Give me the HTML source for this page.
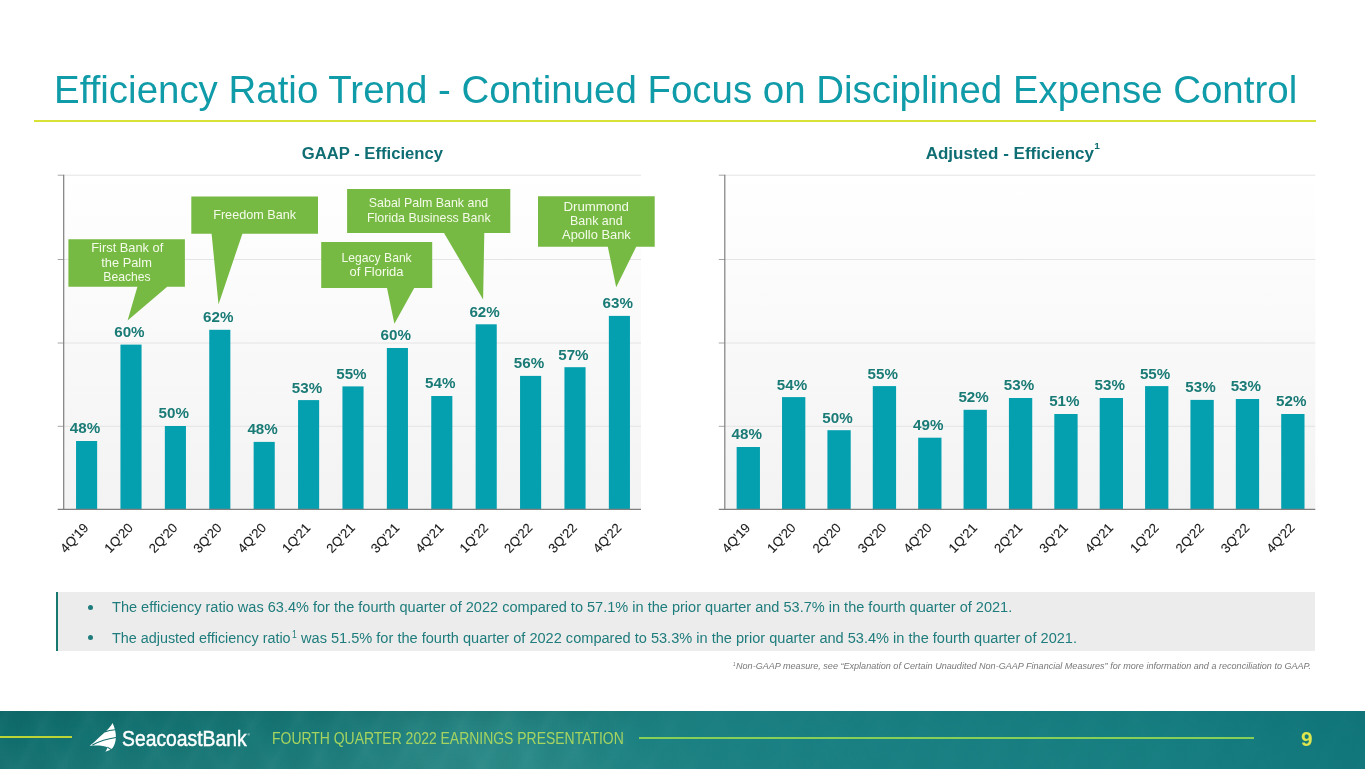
<!DOCTYPE html>
<html lang="en">
<head>
<meta charset="utf-8">
<title>Efficiency Ratio Trend - Continued Focus on Disciplined Expense Control</title>
<style>
html,body{margin:0;padding:0;background:#fff}
body{width:1365px;height:769px;position:relative;overflow:hidden;font-family:"Liberation Sans", sans-serif}
.t{position:absolute;display:block;white-space:nowrap;transform-origin:0 0;margin:0;padding:0;font-weight:normal;font-style:normal}
ul,li{margin:0;padding:0;list-style:none}
.rule{position:absolute;left:34px;top:120.2px;width:1282px;height:1.5px;background:#d8e136}
.chart{position:absolute;display:block;font-family:"Liberation Sans", sans-serif}
.box{position:absolute;left:56.4px;top:591.9px;width:1258.8px;height:59.6px;background:#ececec;border-left:2px solid #17786f;box-sizing:border-box}
.dot{position:absolute;left:88.1px;width:5px;height:5px;border-radius:50%;background:#1f7c7c}
footer{position:absolute;left:0;top:711.3px;width:1365px;height:57.7px;overflow:hidden;
 background:linear-gradient(90deg,#106f6e 0,#147574 120px,#197b79 330px,#1f8481 500px,#1b8083 760px,#177e81 1150px,#11767a 1365px)}
footer .tex{position:absolute;left:0;top:0;width:100%;height:100%;background:
 repeating-linear-gradient(118deg,rgba(255,255,255,0) 0,rgba(255,255,255,.018) 7px,rgba(255,255,255,0) 15px,rgba(0,40,40,.025) 26px,rgba(255,255,255,0) 37px),
 repeating-linear-gradient(64deg,rgba(255,255,255,0) 0,rgba(255,255,255,.014) 9px,rgba(255,255,255,0) 21px,rgba(0,40,40,.02) 33px,rgba(255,255,255,0) 47px),
 radial-gradient(ellipse 180px 60px at 470px 30px,rgba(255,255,255,.05),rgba(255,255,255,0)),
 linear-gradient(180deg,rgba(0,50,50,.10) 0,rgba(0,0,0,0) 45%,rgba(255,255,255,.03) 100%);
 -webkit-mask-image:linear-gradient(90deg,#000 0,#000 560px,rgba(0,0,0,.25) 700px,rgba(0,0,0,.25) 100%);mask-image:linear-gradient(90deg,#000 0,#000 560px,rgba(0,0,0,.25) 700px,rgba(0,0,0,.25) 100%)}
.fl{position:absolute;height:1.3px}
.logo{-webkit-text-stroke:0.45px #fff}
</style>
</head>
<body>
<main>
<h1 class="t title" style="left:54.00px;top:65.99px;font-size:39.2px;line-height:47.04px;color:#109ba9;transform:scaleX(0.9812)">Efficiency Ratio Trend - Continued Focus on Disciplined Expense Control</h1>
<div class="rule"></div>
<section>
<svg class="chart" style="left:0px;top:130px" width="682" height="450" viewBox="0 130 682 450" >
<defs><linearGradient id="pg0" x1="0" y1="0" x2="0" y2="1"><stop offset="0" stop-color="#ffffff"/><stop offset="1" stop-color="#f3f3f3"/></linearGradient></defs>
<rect x="63.7" y="175.2" width="577.3" height="334.2" fill="url(#pg0)"/>
<path d="M63.7 175.2H641.0M63.7 259.5H641.0M63.7 343.0H641.0M63.7 426.3H641.0" stroke="#e4e4e4" stroke-width="1" fill="none"/>
<g fill="#04a0b0">
<rect x="76.05" y="441.0" width="21.10" height="68.7"/>
<rect x="120.45" y="344.6" width="21.10" height="165.1"/>
<rect x="164.85" y="426.0" width="21.10" height="83.7"/>
<rect x="209.25" y="329.8" width="21.10" height="179.9"/>
<rect x="253.65" y="441.9" width="21.10" height="67.8"/>
<rect x="298.05" y="400.1" width="21.10" height="109.6"/>
<rect x="342.45" y="386.4" width="21.10" height="123.3"/>
<rect x="386.85" y="348.0" width="21.10" height="161.7"/>
<rect x="431.25" y="396.0" width="21.10" height="113.7"/>
<rect x="475.65" y="324.3" width="21.10" height="185.4"/>
<rect x="520.05" y="375.9" width="21.10" height="133.8"/>
<rect x="564.45" y="367.2" width="21.10" height="142.5"/>
<rect x="608.85" y="315.9" width="21.10" height="193.8"/>
</g>
<path d="M57.7 175.2H63.7M57.7 259.5H63.7M57.7 343.0H63.7M57.7 426.3H63.7" stroke="#a6a6a6" stroke-width="1" fill="none"/>
<path d="M63.7 174.7V509.4M57.7 509.4H641.0" stroke="#7f7f7f" stroke-width="1.2" fill="none"/>
<path d="M68.4 239.3H184.9V286.8H167.2L127.6 320.4L137.4 286.8H68.4Z" fill="#77ba43"/>
<text x="91.30" y="252.30" font-size="13.1" fill="#f4fbea" textLength="71.90" lengthAdjust="spacingAndGlyphs">First Bank of</text>
<text x="101.30" y="266.50" font-size="13.1" fill="#f4fbea" textLength="50.60" lengthAdjust="spacingAndGlyphs">the Palm</text>
<text x="103.30" y="280.60" font-size="13.1" fill="#f4fbea" textLength="47.30" lengthAdjust="spacingAndGlyphs">Beaches</text>
<path d="M191.3 196.4H318.0V233.7H242.4L218.5 304.4L211.6 233.7H191.3Z" fill="#77ba43"/>
<text x="213.20" y="218.70" font-size="13.1" fill="#f4fbea" textLength="82.90" lengthAdjust="spacingAndGlyphs">Freedom Bank</text>
<path d="M321.2 242.1H432.2V288.1H414.2L394.4 323.8L387.0 288.1H321.2Z" fill="#77ba43"/>
<text x="341.60" y="261.60" font-size="13.1" fill="#f4fbea" textLength="70.10" lengthAdjust="spacingAndGlyphs">Legacy Bank</text>
<text x="349.50" y="275.50" font-size="13.1" fill="#f4fbea" textLength="54.00" lengthAdjust="spacingAndGlyphs">of Florida</text>
<path d="M347.1 189.1H510.3V232.9H484.3L483.1 299.6L444.0 232.9H347.1Z" fill="#77ba43"/>
<text x="368.80" y="207.40" font-size="13.1" fill="#f4fbea" textLength="119.40" lengthAdjust="spacingAndGlyphs">Sabal Palm Bank and</text>
<text x="367.00" y="221.60" font-size="13.1" fill="#f4fbea" textLength="123.60" lengthAdjust="spacingAndGlyphs">Florida Business Bank</text>
<path d="M538.0 196.3H654.7V246.7H636.2L616.2 287.2L607.8 246.7H538.0Z" fill="#77ba43"/>
<text x="563.40" y="210.90" font-size="13.1" fill="#f4fbea" textLength="65.60" lengthAdjust="spacingAndGlyphs">Drummond</text>
<text x="570.00" y="225.00" font-size="13.1" fill="#f4fbea" textLength="52.60" lengthAdjust="spacingAndGlyphs">Bank and</text>
<text x="562.10" y="239.40" font-size="13.1" fill="#f4fbea" textLength="68.70" lengthAdjust="spacingAndGlyphs">Apollo Bank</text>
<g font-weight="bold" font-size="15.1" fill="#1a7b76" text-anchor="middle">
<text x="85.00" y="433.4" textLength="30.4" lengthAdjust="spacingAndGlyphs">48%</text>
<text x="129.40" y="337.0" textLength="30.4" lengthAdjust="spacingAndGlyphs">60%</text>
<text x="173.80" y="418.4" textLength="30.4" lengthAdjust="spacingAndGlyphs">50%</text>
<text x="218.20" y="322.2" textLength="30.4" lengthAdjust="spacingAndGlyphs">62%</text>
<text x="262.60" y="434.3" textLength="30.4" lengthAdjust="spacingAndGlyphs">48%</text>
<text x="307.00" y="392.5" textLength="30.4" lengthAdjust="spacingAndGlyphs">53%</text>
<text x="351.40" y="378.8" textLength="30.4" lengthAdjust="spacingAndGlyphs">55%</text>
<text x="395.80" y="340.4" textLength="30.4" lengthAdjust="spacingAndGlyphs">60%</text>
<text x="440.20" y="388.4" textLength="30.4" lengthAdjust="spacingAndGlyphs">54%</text>
<text x="484.60" y="316.7" textLength="30.4" lengthAdjust="spacingAndGlyphs">62%</text>
<text x="529.00" y="368.3" textLength="30.4" lengthAdjust="spacingAndGlyphs">56%</text>
<text x="573.40" y="359.6" textLength="30.4" lengthAdjust="spacingAndGlyphs">57%</text>
<text x="617.80" y="308.3" textLength="30.4" lengthAdjust="spacingAndGlyphs">63%</text>
</g>
<g font-size="13.1" fill="#1c1c1c" stroke="#1c1c1c" stroke-width="0.1" text-anchor="end">
<text transform="translate(89.30 528.4) rotate(-47)" textLength="34.6" lengthAdjust="spacingAndGlyphs">4Q&#x27;19</text>
<text transform="translate(133.70 528.4) rotate(-47)" textLength="34.6" lengthAdjust="spacingAndGlyphs">1Q&#x27;20</text>
<text transform="translate(178.10 528.4) rotate(-47)" textLength="34.6" lengthAdjust="spacingAndGlyphs">2Q&#x27;20</text>
<text transform="translate(222.50 528.4) rotate(-47)" textLength="34.6" lengthAdjust="spacingAndGlyphs">3Q&#x27;20</text>
<text transform="translate(266.90 528.4) rotate(-47)" textLength="34.6" lengthAdjust="spacingAndGlyphs">4Q&#x27;20</text>
<text transform="translate(311.30 528.4) rotate(-47)" textLength="34.6" lengthAdjust="spacingAndGlyphs">1Q&#x27;21</text>
<text transform="translate(355.70 528.4) rotate(-47)" textLength="34.6" lengthAdjust="spacingAndGlyphs">2Q&#x27;21</text>
<text transform="translate(400.10 528.4) rotate(-47)" textLength="34.6" lengthAdjust="spacingAndGlyphs">3Q&#x27;21</text>
<text transform="translate(444.50 528.4) rotate(-47)" textLength="34.6" lengthAdjust="spacingAndGlyphs">4Q&#x27;21</text>
<text transform="translate(488.90 528.4) rotate(-47)" textLength="34.6" lengthAdjust="spacingAndGlyphs">1Q&#x27;22</text>
<text transform="translate(533.30 528.4) rotate(-47)" textLength="34.6" lengthAdjust="spacingAndGlyphs">2Q&#x27;22</text>
<text transform="translate(577.70 528.4) rotate(-47)" textLength="34.6" lengthAdjust="spacingAndGlyphs">3Q&#x27;22</text>
<text transform="translate(622.10 528.4) rotate(-47)" textLength="34.6" lengthAdjust="spacingAndGlyphs">4Q&#x27;22</text>
</g>
<text x="301.80" y="159.40" font-size="17.2" fill="#0f6e73" font-weight="bold" textLength="141.20" lengthAdjust="spacingAndGlyphs">GAAP - Efficiency</text>
</svg>
</section>
<section>
<svg class="chart" style="left:682px;top:130px" width="683" height="450" viewBox="682 130 683 450" >
<defs><linearGradient id="pg1" x1="0" y1="0" x2="0" y2="1"><stop offset="0" stop-color="#ffffff"/><stop offset="1" stop-color="#f3f3f3"/></linearGradient></defs>
<rect x="724.8" y="175.2" width="590.5" height="334.2" fill="url(#pg1)"/>
<path d="M724.8 175.2H1315.3M724.8 259.5H1315.3M724.8 343.0H1315.3M724.8 426.3H1315.3" stroke="#e4e4e4" stroke-width="1" fill="none"/>
<g fill="#04a0b0">
<rect x="736.65" y="447.0" width="23.30" height="62.7"/>
<rect x="782.03" y="397.1" width="23.30" height="112.6"/>
<rect x="827.41" y="430.2" width="23.30" height="79.5"/>
<rect x="872.79" y="386.1" width="23.30" height="123.6"/>
<rect x="918.17" y="437.7" width="23.30" height="72.0"/>
<rect x="963.55" y="409.8" width="23.30" height="99.9"/>
<rect x="1008.93" y="398.0" width="23.30" height="111.7"/>
<rect x="1054.31" y="414.0" width="23.30" height="95.7"/>
<rect x="1099.69" y="398.0" width="23.30" height="111.7"/>
<rect x="1145.07" y="386.1" width="23.30" height="123.6"/>
<rect x="1190.45" y="399.9" width="23.30" height="109.8"/>
<rect x="1235.83" y="399.0" width="23.30" height="110.7"/>
<rect x="1281.21" y="414.0" width="23.30" height="95.7"/>
</g>
<path d="M718.8 175.2H724.8M718.8 259.5H724.8M718.8 343.0H724.8M718.8 426.3H724.8" stroke="#a6a6a6" stroke-width="1" fill="none"/>
<path d="M724.8 174.7V509.4M718.8 509.4H1315.3" stroke="#7f7f7f" stroke-width="1.2" fill="none"/>
<g font-weight="bold" font-size="15.1" fill="#1a7b76" text-anchor="middle">
<text x="746.70" y="439.4" textLength="30.4" lengthAdjust="spacingAndGlyphs">48%</text>
<text x="792.08" y="389.5" textLength="30.4" lengthAdjust="spacingAndGlyphs">54%</text>
<text x="837.46" y="422.6" textLength="30.4" lengthAdjust="spacingAndGlyphs">50%</text>
<text x="882.84" y="378.5" textLength="30.4" lengthAdjust="spacingAndGlyphs">55%</text>
<text x="928.22" y="430.1" textLength="30.4" lengthAdjust="spacingAndGlyphs">49%</text>
<text x="973.60" y="402.2" textLength="30.4" lengthAdjust="spacingAndGlyphs">52%</text>
<text x="1018.98" y="390.4" textLength="30.4" lengthAdjust="spacingAndGlyphs">53%</text>
<text x="1064.36" y="406.4" textLength="30.4" lengthAdjust="spacingAndGlyphs">51%</text>
<text x="1109.74" y="390.4" textLength="30.4" lengthAdjust="spacingAndGlyphs">53%</text>
<text x="1155.12" y="378.5" textLength="30.4" lengthAdjust="spacingAndGlyphs">55%</text>
<text x="1200.50" y="392.3" textLength="30.4" lengthAdjust="spacingAndGlyphs">53%</text>
<text x="1245.88" y="391.4" textLength="30.4" lengthAdjust="spacingAndGlyphs">53%</text>
<text x="1291.26" y="406.4" textLength="30.4" lengthAdjust="spacingAndGlyphs">52%</text>
</g>
<g font-size="13.1" fill="#1c1c1c" stroke="#1c1c1c" stroke-width="0.1" text-anchor="end">
<text transform="translate(751.00 528.4) rotate(-47)" textLength="34.6" lengthAdjust="spacingAndGlyphs">4Q&#x27;19</text>
<text transform="translate(796.38 528.4) rotate(-47)" textLength="34.6" lengthAdjust="spacingAndGlyphs">1Q&#x27;20</text>
<text transform="translate(841.76 528.4) rotate(-47)" textLength="34.6" lengthAdjust="spacingAndGlyphs">2Q&#x27;20</text>
<text transform="translate(887.14 528.4) rotate(-47)" textLength="34.6" lengthAdjust="spacingAndGlyphs">3Q&#x27;20</text>
<text transform="translate(932.52 528.4) rotate(-47)" textLength="34.6" lengthAdjust="spacingAndGlyphs">4Q&#x27;20</text>
<text transform="translate(977.90 528.4) rotate(-47)" textLength="34.6" lengthAdjust="spacingAndGlyphs">1Q&#x27;21</text>
<text transform="translate(1023.28 528.4) rotate(-47)" textLength="34.6" lengthAdjust="spacingAndGlyphs">2Q&#x27;21</text>
<text transform="translate(1068.66 528.4) rotate(-47)" textLength="34.6" lengthAdjust="spacingAndGlyphs">3Q&#x27;21</text>
<text transform="translate(1114.04 528.4) rotate(-47)" textLength="34.6" lengthAdjust="spacingAndGlyphs">4Q&#x27;21</text>
<text transform="translate(1159.42 528.4) rotate(-47)" textLength="34.6" lengthAdjust="spacingAndGlyphs">1Q&#x27;22</text>
<text transform="translate(1204.80 528.4) rotate(-47)" textLength="34.6" lengthAdjust="spacingAndGlyphs">2Q&#x27;22</text>
<text transform="translate(1250.18 528.4) rotate(-47)" textLength="34.6" lengthAdjust="spacingAndGlyphs">3Q&#x27;22</text>
<text transform="translate(1295.56 528.4) rotate(-47)" textLength="34.6" lengthAdjust="spacingAndGlyphs">4Q&#x27;22</text>
</g>
<text x="925.70" y="159.40" font-size="17.2" fill="#0f6e73" font-weight="bold" textLength="168.30" lengthAdjust="spacingAndGlyphs">Adjusted - Efficiency</text>
<text x="1094.20" y="148.90" font-size="9.8" fill="#0f6e73" font-weight="bold" textLength="5.60" lengthAdjust="spacingAndGlyphs">1</text>
</svg>
</section>
<div class="box"></div>
<ul>
<li><i class="dot" style="top:604.8px"></i><span class="t" style="left:112.20px;top:599.35px;font-size:14.0px;line-height:16.8px;color:#1f7c7c;transform:scaleX(1.0387)">The efficiency ratio was 63.4% for the fourth quarter of 2022 compared to 57.1% in the prior quarter and 53.7% in the fourth quarter of 2021.</span></li>
<li><i class="dot" style="top:635.1px"></i><span class="t" style="left:112.20px;top:629.65px;font-size:14.0px;line-height:16.8px;color:#1f7c7c;transform:scaleX(1.0260)">The adjusted efficiency ratio</span><sup class="t" style="left:292.20px;top:628.55px;font-size:10.4px;line-height:12.48px;color:#1f7c7c;transform:scaleX(0.8303)">1</sup><span class="t" style="left:301.00px;top:629.65px;font-size:14.0px;line-height:16.8px;color:#1f7c7c;transform:scaleX(1.0408)">was 51.5% for the fourth quarter of 2022 compared to 53.3% in the prior quarter and 53.4% in the fourth quarter of 2021.</span></li>
</ul>
<p style="margin:0"><sup class="t" style="left:733.40px;top:660.72px;font-size:6.0px;font-style:italic;line-height:7.2px;color:#787878;transform:scaleX(0.7776)">1</sup><span class="t" style="left:736.40px;top:661.17px;font-size:8.9px;font-style:italic;line-height:10.68px;color:#787878;transform:scaleX(1.0213)">Non-GAAP measure, see “Explanation of Certain Unaudited Non-GAAP Financial Measures” for more information and a reconciliation to GAAP.</span></p>
</main>
<footer>
<div class="tex"></div>
<div class="fl" style="left:0;top:25.2px;width:71.6px;height:1.1px;background:#bcd534"></div>
<div class="fl" style="left:638.7px;top:26.1px;width:615.6px;background:#86d057"></div>
</footer>
<svg class="chart" style="left:86px;top:720px" width="34" height="34" viewBox="86 720 34 34" aria-hidden="true">
<path fill="#fff" d="M112.5 722.9C114.6 727.0 116.1 732.4 115.9 737.6C115.7 741.6 114.6 745.2 112.6 748.1C110.6 749.8 108.1 751.0 105.3 751.8C106.4 750.4 107.2 748.8 107.4 747.2C103.9 745.5 97.0 745.2 89.6 745.8C93.2 743.2 96.3 740.4 99.0 737.6C101.7 734.9 104.3 732.5 106.6 730.4C109.2 728.0 111.3 725.5 112.5 722.9Z"/>
<path fill="none" stroke="#146f6c" stroke-width="1.15" d="M104.6 731.9C107.8 730.9 111.2 730.2 115.0 729.8M92.4 744.9C99.0 741.5 106.8 738.9 116.0 737.5M107.4 747.2C109.0 747.9 110.2 748.7 111.0 749.5"/>
</svg>
<span class="t logo" style="left:121.70px;top:726.46px;font-size:21.8px;line-height:26.16px;color:#ffffff;transform:scaleX(0.8864)">SeacoastBank</span>
<span class="t" style="left:247.4px;top:733.4px;font-size:3.2px;line-height:4px;color:#fff">®</span>
<span class="t" style="left:271.60px;top:728.65px;font-size:15.9px;line-height:19.08px;color:#a6d460;transform:scaleX(0.8782)">FOURTH QUARTER 2022 EARNINGS PRESENTATION</span>
<span class="t" style="left:1301.00px;top:727.86px;font-size:19.8px;font-weight:bold;line-height:23.76px;color:#dde64e;transform:scaleX(1.0530)">9</span>
</body>
</html>
